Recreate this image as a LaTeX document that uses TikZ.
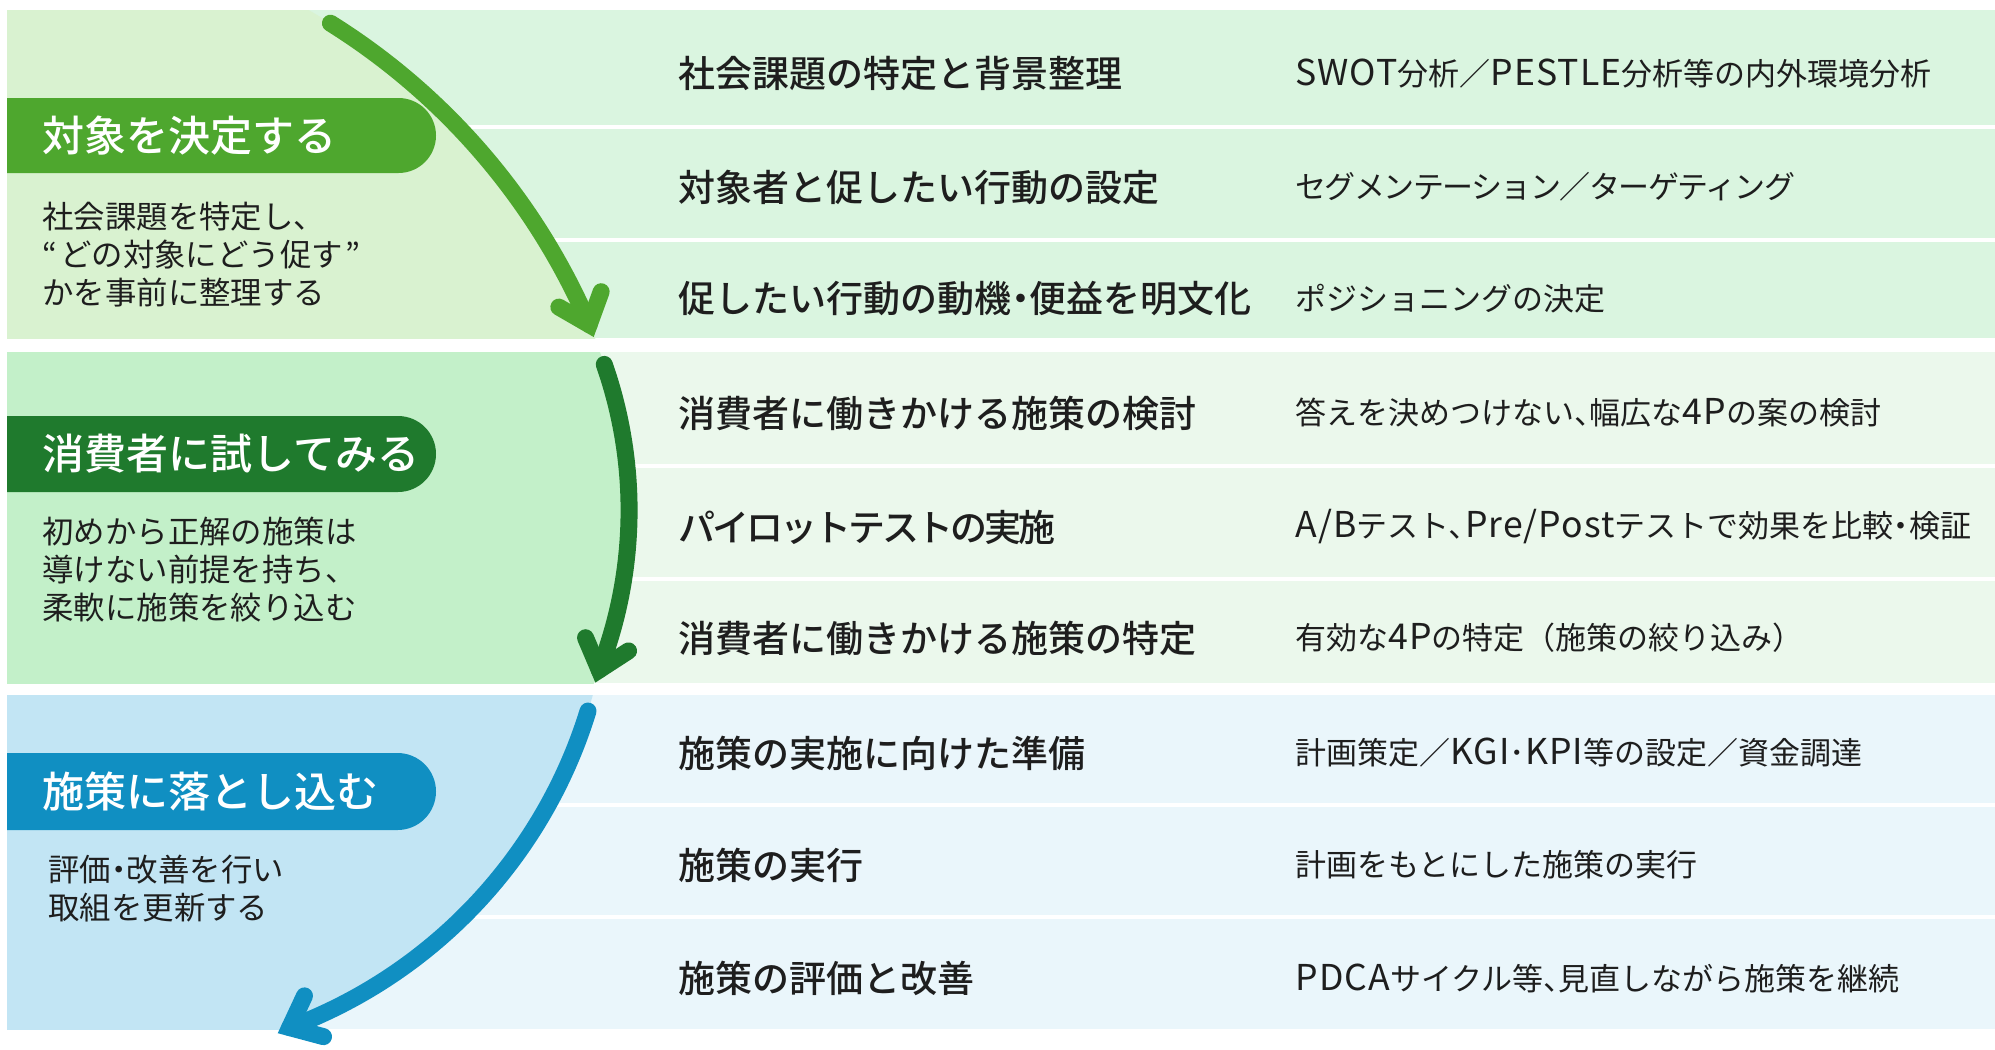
\documentclass[tikz,border=0pt]{standalone}
\usepackage{fontspec}
\setmainfont{Noto Sans CJK JP}
\newfontfamily\jpmed{Noto Sans CJK JP Medium}
\usetikzlibrary{calc}
\definecolor{bAl}{HTML}{D9F2D0}
\definecolor{bAr}{HTML}{DAF5E0}
\definecolor{bBl}{HTML}{C3F0C9}
\definecolor{bBr}{HTML}{EBF8EC}
\definecolor{bCl}{HTML}{C2E5F4}
\definecolor{bCr}{HTML}{EAF6FB}
\definecolor{gA}{HTML}{4EA72E}
\definecolor{gB}{HTML}{1F7A2D}
\definecolor{gC}{HTML}{108FC2}
\definecolor{txt}{HTML}{1E1E1E}
\newcommand\hw[1]{{\addfontfeatures{RawFeature=+halt}#1}}
\newcommand\lt[1]{{\fontsize{17.8pt}{18pt}\selectfont\addfontfeatures{LetterSpace=3}#1}}
\newcommand\tight[1]{{\addfontfeatures{LetterSpace=-8}#1}}
\newcommand\tighter[1]{{\addfontfeatures{LetterSpace=-5}#1}}
\begin{document}
\begin{tikzpicture}[x=0.5pt,y=0.5pt,
  sepline/.style={draw=white,line width=1.6pt},
  lab/.style={anchor=west,inner sep=0,text=white,font=\fontsize{21pt}{24pt}\jpmed},
  desc/.style={anchor=west,inner sep=0,align=left,text=txt,font=\fontsize{15.7pt}{19pt}\selectfont},
  mainitem/.style={anchor=west,inner sep=0,text=txt,font=\fontsize{18.5pt}{22pt}\jpmed},
  subitem/.style={anchor=west,inner sep=0,text=txt,font=\fontsize{15.5pt}{18pt}\selectfont},
  shaft/.style={line width=8.5pt,line cap=round},
  arrowhead/.style={line width=8.5pt,line cap=round,line join=miter}
]
\useasboundingbox (0,0) rectangle (1995,-1049);
% circle centres of the arcs
\coordinate (C1) at (-22.5,-588);
\coordinate (C2) at (187.6,-510.3);
\coordinate (C3) at (117.2,-566.2);
% band 1
\fill[bAr] (7,-10) rectangle (1995,-338);
\draw[sepline] (7,-127) -- (1995,-127);
\draw[sepline] (7,-240) -- (1995,-240);
\begin{scope}
\clip (7,-10) rectangle (1995,-338);
\fill[bAl] (C1) circle[radius=333pt];
\end{scope}
% band 2
\fill[bBr] (7,-352) rectangle (1995,-683);
\draw[sepline] (7,-466) -- (1995,-466);
\draw[sepline] (7,-579) -- (1995,-579);
\begin{scope}
\clip (7,-352) rectangle (1995,-683);
\fill[bBl] (C2) circle[radius=220.75pt];
\end{scope}
% band 3
\fill[bCr] (7,-695) rectangle (1995,-1029);
\draw[sepline] (7,-805) -- (1995,-805);
\draw[sepline] (7,-917) -- (1995,-917);
\begin{scope}
\clip (7,-695) rectangle (1995,-1029);
\fill[bCl] (C3) circle[radius=246.3pt];
\end{scope}
% pills
\fill[gA] (7,-98) -- (398.5,-98) arc[start angle=90,end angle=-90,radius=18.75pt] -- (7,-173) -- cycle;
\fill[gB] (7,-416) -- (398,-416) arc[start angle=90,end angle=-90,radius=19pt] -- (7,-492) -- cycle;
\fill[gC] (7,-753) -- (397.5,-753) arc[start angle=90,end angle=-90,radius=19.25pt] -- (7,-830) -- cycle;
\node[lab] (labA) at (42,-135.5) {対象を決定する};
\node[lab] (labB) at (42,-454) {消費者に試してみる};
\node[lab] (labC) at (42,-791.5) {施策に落とし込む};
% descriptions
\node[desc] (descA) at (42,-255) {社会課題を特定し、\\“\kern1.5pt どの対象にどう促す\kern1.5pt ”\\かを事前に整理する};
\node[desc] (descB) at (42,-570) {初めから正解の施策は\\導けない前提を持ち、\\柔軟に施策を絞り込む};
\node[desc] (descC) at (48,-889) {評価\hw{・}改善を行い\\取組を更新する};
% main items
\node[mainitem] (m1) at (678,-74) {社会課題の特定と背景整理};
\node[mainitem] (m2) at (678,-187) {対象者と促したい行動の設定};
\node[mainitem] (m3) at (678,-299) {促したい行動の動機\hw{・}便益を明文化};
\node[mainitem] (m4) at (678,-413) {消費者に働きかける施策の検討};
\node[mainitem] (m5) at (678,-527) {\tight{パイロットテストの実施}};
\node[mainitem] (m6) at (678,-638) {消費者に働きかける施策の特定};
\node[mainitem] (m7) at (678,-753) {施策の実施に向けた準備};
\node[mainitem] (m8) at (678,-865) {施策の実行};
\node[mainitem] (m9) at (678,-978) {施策の評価と改善};
% sub items
\node[subitem] (s1) at (1295,-74) {\lt{SWOT}分析／\lt{PESTLE}分析等の内外環境分析};
\node[subitem] (s2) at (1295,-187) {\tighter{セグメンテーション／ターゲティング}};
\node[subitem] (s3) at (1295,-299) {ポジショニングの決定};
\node[subitem] (s4) at (1295,-413) {答えを決めつけない\hw{、}幅広な\lt{4P}の案の検討};
\node[subitem] (s5) at (1295,-527) {\lt{A/B}テスト､\lt{Pre/Post}テストで効果を比較\hw{・}検証};
\node[subitem] (s6) at (1295,-638) {有効な\lt{4P}の特定（施策の絞り込み）};
\node[subitem] (s7) at (1295,-753) {計画策定／\lt{KGI}･\lt{KPI}等の設定／資金調達};
\node[subitem] (s8) at (1295,-865) {計画をもとにした施策の実行};
\node[subitem] (s9) at (1295,-978) {\lt{PDCA}サイクル等\hw{、}見直しながら施策を継続};
% arrows
\draw[shaft,gA] ($(C1)+(58:333pt)$) arc[start angle=58,end angle=23.3,radius=333pt] coordinate (t1);
\draw[arrowhead,gA] ($(t1)+(150:17.5pt)$) -- (t1) -- ($(t1)+(70:17.5pt)$);
\draw[shaft,gB] ($(C2)+(19.3:220.75pt)$) arc[start angle=19.3,end angle=-21.2,radius=220.75pt] coordinate (t2);
\draw[arrowhead,gB] ($(t2)+(113:17.5pt)$) -- (t2) -- ($(t2)+(33:17.5pt)$);
\draw[shaft,gC] ($(C3)+(-17.1:246.3pt)$) arc[start angle=-17.1,end angle=-69.5,radius=246.3pt] coordinate (t3);
\draw[arrowhead,gC] ($(t3)+(65:17.5pt)$) -- (t3) -- ($(t3)+(-15:17.5pt)$);
\end{tikzpicture}
\end{document}
